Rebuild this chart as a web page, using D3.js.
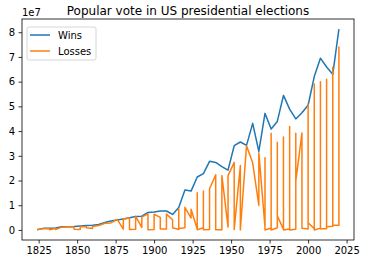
<!DOCTYPE html>
<html>
<head>
<meta charset="utf-8">
<title>Popular vote in US presidential elections</title>
<script src="https://cdnjs.cloudflare.com/ajax/libs/d3/7.8.5/d3.min.js"></script>
<style>
  body { margin: 0; background: #fff; }
  text { font-family: "DejaVu Sans", sans-serif; fill: #000; }
</style>
</head>
<body>
<div id="ChartArea"></div>
<script>
// votes in millions
const winYears = [1824, 1828, 1832, 1836, 1840, 1844, 1848, 1852, 1856, 1860,
  1864, 1868, 1872, 1876, 1880, 1884, 1888, 1892, 1896, 1900,
  1904, 1908, 1912, 1916, 1920, 1924, 1928, 1932, 1936, 1940,
  1944, 1948, 1952, 1956, 1960, 1964, 1968, 1972, 1976, 1980,
  1984, 1988, 1992, 1996, 2000, 2004, 2008, 2012, 2016, 2020];
const winVotes = [0.113, 0.643, 0.702, 0.764, 1.276, 1.340, 1.361, 1.608, 1.836, 1.866,
  2.218, 3.014, 3.598, 4.034, 4.453, 4.914, 5.444, 5.554, 7.112, 7.229,
  7.631, 7.678, 6.296, 9.127, 16.144, 15.724, 21.427, 22.821, 27.753, 27.314,
  25.613, 24.179, 34.076, 35.579, 34.221, 43.127, 31.784, 47.169, 40.832, 43.903,
  54.455, 48.887, 44.910, 47.401, 50.456, 62.041, 69.499, 65.916, 62.985, 81.284];

const lossYears = [1824, 1828, 1832, 1832, 1836, 1836, 1840, 1844, 1848, 1848,
  1852, 1852, 1856, 1856, 1860, 1860, 1860, 1864, 1868, 1872,
  1876, 1880, 1880, 1884, 1884, 1888, 1888, 1892, 1892, 1896,
  1896, 1900, 1900, 1904, 1904, 1908, 1908, 1912, 1912, 1912,
  1916, 1916, 1916, 1920, 1920, 1924, 1924, 1928, 1928, 1928,
  1932, 1932, 1932, 1936, 1936, 1940, 1940, 1944, 1944, 1948,
  1948, 1952, 1952, 1956, 1956, 1960, 1964, 1968, 1968, 1972,
  1972, 1972, 1976, 1976, 1976, 1980, 1980, 1980, 1984, 1984,
  1984, 1988, 1988, 1988, 1992, 1992, 1992, 1996, 1996, 1996,
  2000, 2000, 2000, 2004, 2004, 2004, 2008, 2008, 2008, 2012,
  2012, 2012, 2016, 2016, 2016, 2020, 2020];
const lossVotes = [0.151, 0.501, 0.484, 0.100, 0.550, 0.146, 1.129, 1.300, 1.223, 0.291,
  0.156, 1.386, 1.342, 0.874, 0.591, 0.848, 1.380, 1.812, 2.707, 2.834,
  4.288, 0.308, 4.445, 4.856, 0.175, 0.250, 5.534, 1.024, 5.176, 6.510,
  0.133, 0.210, 6.358, 5.084, 0.403, 0.421, 6.409, 4.122, 3.486, 0.901,
  0.221, 8.548, 0.585, 0.914, 9.141, 4.832, 8.386, 0.267, 15.016, 0.049,
  0.885, 15.761, 0.103, 0.187, 16.681, 22.348, 0.117, 0.079, 22.018, 1.176,
  21.991, 27.315, 0.140, 26.029, 0.0, 34.108, 27.176, 9.901, 31.271, 1.100,
  29.171, 0.004, 0.757, 39.148, 0.0, 0.921, 35.481, 5.720, 0.228, 37.577,
  0.0, 0.432, 41.809, 0.0, 0.291, 39.104, 19.743, 39.198, 8.085, 0.685,
  0.384, 50.999, 2.883, 0.465, 59.028, 0.0, 0.739, 59.948, 0.524, 0.469,
  60.933, 1.276, 1.458, 65.854, 2.0, 1.865, 74.216];

const xTicks = [1825, 1850, 1875, 1900, 1925, 1950, 1975, 2000, 2025];
const yTicks = [0, 10, 20, 30, 40, 50, 60, 70, 80];
const yTickLabels = ["0", "1", "2", "3", "4", "5", "6", "7", "8"];
const seriesNames = ["Wins", "Losses"];
const seriesColors = ["#1f77b4", "#ff7f0e"];

const W = 367, H = 264;
const margin = {top: 19, right: 13, bottom: 24, left: 22};
const width = W - margin.left - margin.right;
const height = H - margin.top - margin.bottom;

const svg = d3.select("#ChartArea").append("svg")
  .attr("width", W).attr("height", H);

// matplotlib style 5% margins
const allYears = winYears.concat(lossYears);
const allVotes = winVotes.concat(lossVotes);
const xMin = d3.min(allYears), xMax = d3.max(allYears);
const yMin = d3.min(allVotes), yMax = d3.max(allVotes);
const x = d3.scaleLinear()
  .domain([xMin - 0.05 * (xMax - xMin), xMax + 0.05 * (xMax - xMin)])
  .range([0, width]);
const y = d3.scaleLinear()
  .domain([yMin - 0.05 * (yMax - yMin), yMax + 0.05 * (yMax - yMin)])
  .range([height, 0]);

const g = svg.append("g")
  .attr("transform", "translate(" + margin.left + "," + margin.top + ")");

const line = d3.line()
  .x(function(d) { return x(d[0]); })
  .y(function(d) { return y(d[1]); });

const winData = winYears.map(function(yr, i) { return [yr, winVotes[i]]; });
const lossData = lossYears.map(function(yr, i) { return [yr, lossVotes[i]]; });

g.append("path").datum(winData)
  .attr("fill", "none").attr("stroke", seriesColors[0])
  .attr("stroke-width", 1.5).attr("stroke-linejoin", "round")
  .attr("d", line);
g.append("path").datum(lossData)
  .attr("fill", "none").attr("stroke", seriesColors[1])
  .attr("stroke-width", 1.5).attr("stroke-linejoin", "round")
  .attr("d", line);

// axes
const xAxis = g.append("g")
  .attr("transform", "translate(0," + height + ")")
  .call(d3.axisBottom(x).tickValues(xTicks).tickFormat(d3.format("d"))
    .tickSizeOuter(0).tickSize(3.5).tickPadding(3.5));
const yAxis = g.append("g")
  .call(d3.axisLeft(y).tickValues(yTicks)
    .tickFormat(function(d, i) { return yTickLabels[i]; })
    .tickSizeOuter(0).tickSize(3.5).tickPadding(3.5));
[xAxis, yAxis].forEach(function(a) {
  a.select(".domain").remove();
  a.selectAll(".tick line").attr("stroke", "#000").attr("stroke-width", 0.8);
  a.selectAll(".tick text").attr("font-size", 10).attr("fill", "#000")
    .style("font-family", "'DejaVu Sans', sans-serif");
});

// spines
g.append("rect")
  .attr("x", 0).attr("y", 0).attr("width", width).attr("height", height)
  .attr("fill", "none").attr("stroke", "#000").attr("stroke-width", 0.8);

// offset text
svg.append("text")
  .attr("x", margin.left).attr("y", margin.top - 3)
  .attr("font-size", 10)
  .text("1e7");

// title
svg.append("text")
  .attr("x", margin.left + width / 2).attr("y", 15)
  .attr("text-anchor", "middle").attr("font-size", 12)
  .text("Popular vote in US presidential elections");

// legend
const legend = g.append("g").attr("transform", "translate(5,8)");
legend.append("rect")
  .attr("x", 0).attr("y", 0).attr("width", 69).attr("height", 33)
  .attr("rx", 2).attr("fill", "#fff").attr("fill-opacity", 0.8)
  .attr("stroke", "#cccccc").attr("stroke-width", 0.8);
seriesNames.forEach(function(name, i) {
  const row = legend.append("g").attr("transform", "translate(0," + (8 + i * 16) + ")");
  row.append("line").attr("x1", 3).attr("x2", 23).attr("y1", 0).attr("y2", 0)
    .attr("stroke", seriesColors[i]).attr("stroke-width", 1.5);
  row.append("text").attr("x", 31).attr("y", 0).attr("dy", "0.35em")
    .attr("font-size", 10).text(name);
});
</script>
</body>
</html>
